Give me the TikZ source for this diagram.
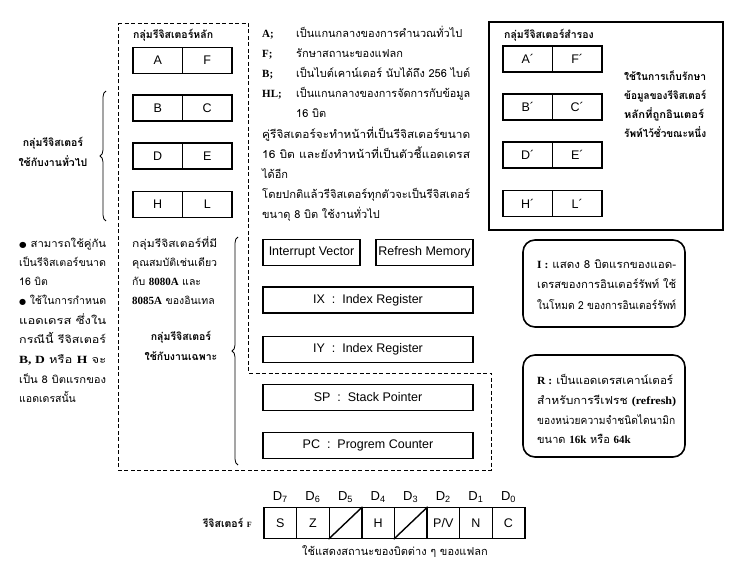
\documentclass[tikz,border=0pt]{standalone}
\usepackage{fontspec}
\usepackage{graphicx}
\usetikzlibrary{decorations.pathreplacing}
\newfontfamily\thai[Script=Thai]{Loma}
\newfontfamily\lsans{Liberation Sans}
\newfontfamily\lser{Liberation Serif}
\newfontfamily\dv{DejaVu Sans}
\newcommand\jl[2]{\resizebox{#1}{\height}{#2}}
\newcommand\ls{\lser\bfseries\fontsize{11}{13}\selectfont}
\newcommand\bul{{\dv\fontsize{8}{10}\selectfont ●}\ }
\tikzset{
  reg/.style={draw, line width=1.6pt, minimum height=26pt, inner sep=0pt, font=\lsans\fontsize{12.5}{14}\selectfont},
  half/.style={reg, minimum width=49.5pt},
  wreg/.style={reg, minimum width=210pt},
  mreg/.style={reg, minimum width=97pt},
  fcell/.style={draw, line width=1.4pt, minimum width=32.6pt, minimum height=31pt, inner sep=0pt, font=\lsans\fontsize{12.5}{14}\selectfont},
  tl/.style={anchor=base west, inner sep=0pt, font=\thai\fontsize{11}{13}\selectfont},
  tn/.style={tl, font=\thai\fontsize{10.5}{12}\selectfont},
  tb/.style={anchor=base, inner sep=0pt, font=\thai\bfseries\fontsize{10.5}{12}\selectfont},
  tbw/.style={anchor=base west, inner sep=0pt, font=\thai\bfseries\fontsize{10.5}{12}\selectfont},
  dashbox/.style={line width=0.8pt, dash pattern=on 4pt off 2.5pt},
  brc/.style={decorate, decoration={brace, amplitude=6pt}, line width=0.8pt},
  rbox/.style={draw, line width=1.6pt, rounded corners=12pt},
}
\begin{document}
\begin{tikzpicture}[x=1pt,y=-1pt]
\useasboundingbox (0,0) rectangle (755,585);
\fill[white] (0,0) rectangle (755,585);
% main dashed group
\draw[dashbox] (118,23) -- (248,23) -- (248,373) -- (491,373) -- (491,470) -- (118,470) -- cycle;
\node[tbw] (maintitle) at (133,39) {กลุ่มรีจิสเตอร์หลัก};
\node[half] (A) at (157.75,60.5) {A};
\node[half] (F) at (207.25,60.5) {F};
\node[half] (B) at (157.75,108) {B};
\node[half] (C) at (207.25,108) {C};
\node[half] (D) at (157.75,156) {D};
\node[half] (E) at (207.25,156) {E};
\node[half] (H) at (157.75,204.5) {H};
\node[half] (L) at (207.25,204.5) {L};
% left brace and label
\coordinate (b1s) at (106,221);
\coordinate (b1e) at (106,91);
\draw[brc] (b1s) -- (b1e);
\node[tb] (gl1) at (53,147) {กลุ่มรีจิสเตอร์};
\node[tb] (gl2) at (53,167) {ใช้กับงานทั่วไป};
% middle descriptions
\node[tl,font=\ls] (pA) at (262,38) {A;};
\node[tl] (dA) at (296,38) {เป็นแกนกลางของการคำนวณทั่วไป};
\node[tl,font=\ls] (pF) at (262,58) {F;};
\node[tl] (dF) at (296,58) {รักษาสถานะของแฟลก};
\node[tl,font=\ls] (pB) at (262,78) {B;};
\node[tl] (dB) at (296,78) {\jl{174pt}{เป็นไบต์เคาน์เตอร์ นับได้ถึง 256 ไบต์}};
\node[tl,font=\ls] (pH) at (262,98) {HL;};
\node[tl] (dH) at (296,98) {\jl{174pt}{เป็นแกนกลางของการจัดการกับข้อมูล}};
\node[tl] (dH2) at (296,118) {16 บิต};
\node[tl] (p1) at (262,139) {\jl{208pt}{คู่รีจิสเตอร์จะทำหน้าที่เป็นรีจิสเตอร์ขนาด}};
\node[tl] (p2) at (262,159) {\jl{208pt}{16 บิต และยังทำหน้าที่เป็นตัวชี้แอดเดรส}};
\node[tl] (p3) at (262,179) {ได้อีก};
\node[tl] (p4) at (262,199) {\jl{208pt}{โดยปกติแล้วรีจิสเตอร์ทุกตัวจะเป็นรีจิสเตอร์}};
\node[tl] (p5) at (262,219) {ขนาดุ 8 บิต ใช้งานทั่วไป};
% alternate set
\draw[line width=1.6pt] (489,22) rectangle (723,230);
\node[tbw] (alttitle) at (504,39) {กลุ่มรีจิสเตอร์สำรอง};
\node[half] (A2) at (527.75,59) {A´};
\node[half] (F2) at (577.25,59) {F´};
\node[half] (B2) at (527.75,107) {B´};
\node[half] (C2) at (577.25,107) {C´};
\node[half] (D2) at (527.75,155) {D´};
\node[half] (E2) at (577.25,155) {E´};
\node[half] (H2) at (527.75,203.5) {H´};
\node[half] (L2) at (577.25,203.5) {L´};
\node[tbw] (r1) at (624,81) {\jl{82pt}{ใช้ในการเก็บรักษา}};
\node[tbw] (r2) at (624,100) {\jl{82pt}{ข้อมูลของรีจิสเตอร์}};
\node[tbw] (r3) at (624,119) {\jl{80pt}{หลักที่ถูกอินเตอร์}};
\node[tbw] (r4) at (624,138) {\jl{82pt}{รัพท์ไว้ชั่วขณะหนึ่ง}};
% left notes
\node[tn] (n1) at (19,248) {\jl{87pt}{\bul สามารถใช้คู่กัน}};
\node[tn] (n2) at (19,267) {\jl{87pt}{เป็นรีจิสเตอร์ขนาด}};
\node[tn] (n3) at (19,286) {16 บิต};
\node[tn] (n4) at (19,305) {\jl{87pt}{\bul ใช้ในการกำหนด}};
\node[tn] (n5) at (19,325) {\jl{87pt}{แอดเดรส ซึ่งใน}};
\node[tn] (n6) at (19,344) {\jl{87pt}{กรณีนี้ รีจิสเตอร์}};
\node[tn] (n7) at (19,363) {\jl{87pt}{{\ls B, D} หรือ {\ls H} จะ}};
\node[tn] (n8) at (19,383) {\jl{87pt}{เป็น 8 บิตแรกของ}};
\node[tn] (n9) at (19,402) {แอดเดรสนั้น};
% special group text
\node[tn] (s1) at (132,248) {\jl{85pt}{กลุ่มรีจิสเตอร์ที่มี}};
\node[tn] (s2) at (132,267) {\jl{85pt}{คุณสมบัติเช่นเดียว}};
\node[tn] (s3) at (132,286) {กับ {\ls 8080A} และ};
\node[tn] (s4) at (132,305) {{\ls 8085A} ของอินเทล};
\node[tb] (s5) at (181,341) {กลุ่มรีจิสเตอร์};
\node[tb] (s6) at (181,360) {ใช้กับงานเฉพาะ};
\coordinate (b2s) at (238,465);
\coordinate (b2e) at (238,237);
\draw[brc] (b2s) -- (b2e);
% special registers
\node[mreg] (IV) at (311.5,252.5) {Interrupt Vector};
\node[mreg] (RM) at (424.5,252.5) {Refresh Memory};
\node[wreg] (IX) at (368,300) {IX \ :\ \ Index Register};
\node[wreg] (IY) at (368,349.5) {IY \ :\ \ Index Register};
\node[wreg] (SP) at (368,397.5) {SP \ :\ \ Stack Pointer};
\node[wreg] (PC) at (368,445.5) {PC \ :\ \ Progrem Counter};
% explanation boxes
\draw[rbox] (523,240) rectangle (685,327);
\node[tl] (i1) at (537,269) {\jl{139pt}{{\ls I :} แสดง 8 บิตแรกของแอด-}};
\node[tl] (i2) at (537,289) {\jl{139pt}{เดรสของการอินเตอร์รัพท์ ใช้}};
\node[tl] (i3) at (537,309) {\jl{139pt}{ในโหมด 2 ของการอินเตอร์รัพท์}};
\draw[rbox] (523,355) rectangle (685,457);
\node[tl] (q1) at (537,384) {\jl{136pt}{{\ls R :} เป็นแอดเดรสเคาน์เตอร์}};
\node[tl] (q2) at (537,404) {\jl{139pt}{สำหรับการรีเฟรช {\ls (refresh)}}};
\node[tl] (q3) at (537,424) {\jl{138pt}{ของหน่วยความจำชนิดไดนามิก}};
\node[tl] (q4) at (537,443) {ขนาด {\ls 16k} หรือ {\ls 64k}};
% flag register
\node[tb,anchor=base east] (flabel) at (252,527) {รีจิสเตอร์ {\lser\bfseries\fontsize{8}{10}\selectfont F}};
\foreach \n/\t [count=\i from 0] in {7/S,6/Z,5/{},4/H,3/{},2/{P/V},1/N,0/C}{
  \node[fcell] (f\n) at (280.3+32.6*\i,523) {\t};
  \node[font=\lsans\fontsize{13}{15}\selectfont, inner sep=0pt] (d\n) at (280.3+32.6*\i,497) {D\textsubscript{\n}};
}
\draw[line width=1.4pt] (f5.south west) -- (f5.north east);
\draw[line width=1.4pt] (f3.south west) -- (f3.north east);
\node[tb,font=\thai\fontsize{11}{13}\selectfont] (fcap) at (395,555) {ใช้แสดงสถานะของบิตต่าง ๆ ของแฟลก};
\end{tikzpicture}
\end{document}
